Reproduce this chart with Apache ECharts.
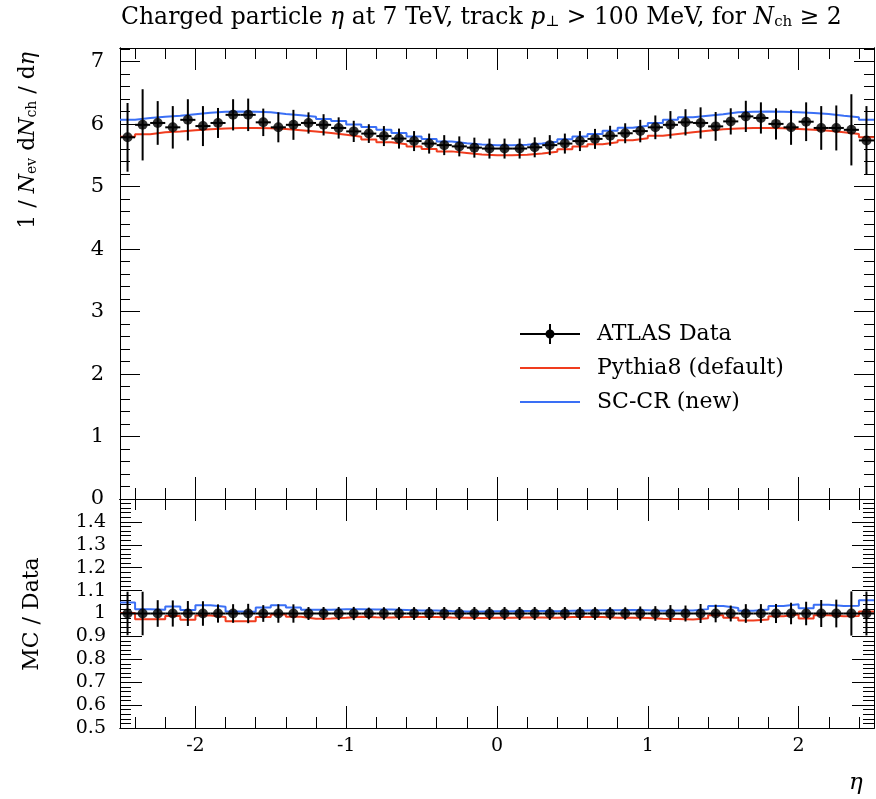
<!DOCTYPE html>
<html>
<head>
<meta charset="utf-8">
<script src="https://cdn.jsdelivr.net/npm/echarts@6/dist/echarts.min.js"></script>
<style>
  html, body { margin: 0; padding: 0; background: #fff; }
  #chart { width: 876px; height: 799px; }
</style>
</head>
<body>
<div id="chart"></div>
<script>
// Binning in pseudorapidity: 50 bins of width 0.1 from -2.5 to 2.5
const etaLow = -2.5;
const binWidth = 0.1;

// ATLAS measurement, 1/Nev dNch/deta per bin
const atlasData = [
  5.79, 5.99, 6.02, 5.95, 6.07, 5.97, 6.02, 6.15, 6.15, 6.03,
  5.95, 5.99, 6.02, 5.99, 5.94, 5.885, 5.85, 5.81, 5.77, 5.73,
  5.69, 5.665, 5.645, 5.625, 5.61, 5.61, 5.61, 5.63, 5.665, 5.69,
  5.73, 5.765, 5.815, 5.855, 5.89, 5.95, 5.99, 6.03, 6.02, 5.965,
  6.045, 6.125, 6.10, 6.005, 5.95, 6.04, 5.94, 5.94, 5.91, 5.74
];
// total uncertainty per bin
const atlasErr = [
  0.55, 0.57, 0.35, 0.34, 0.33, 0.32, 0.24, 0.25, 0.26, 0.22,
  0.24, 0.24, 0.17, 0.17, 0.17, 0.17, 0.15, 0.16, 0.16, 0.16,
  0.16, 0.16, 0.16, 0.16, 0.16, 0.16, 0.16, 0.16, 0.16, 0.16,
  0.16, 0.16, 0.16, 0.16, 0.18, 0.19, 0.22, 0.21, 0.25, 0.23,
  0.21, 0.25, 0.25, 0.25, 0.28, 0.31, 0.35, 0.36, 0.57, 0.55
];
// Pythia8 default tune
const pythia8 = [
  5.80, 5.84, 5.87, 5.885, 5.905, 5.92, 5.93, 5.94, 5.94, 5.935,
  5.925, 5.905, 5.885, 5.86, 5.83, 5.80, 5.755, 5.71, 5.68, 5.645,
  5.605, 5.565, 5.54, 5.515, 5.505, 5.505, 5.51, 5.53, 5.56, 5.60,
  5.645, 5.68, 5.71, 5.745, 5.775, 5.815, 5.845, 5.87, 5.895, 5.92,
  5.93, 5.94, 5.94, 5.935, 5.925, 5.91, 5.895, 5.87, 5.845, 5.79
];
// SC-CR colour reconnection model
const scCr = [
  6.07, 6.10, 6.12, 6.135, 6.16, 6.185, 6.20, 6.205, 6.20, 6.19,
  6.165, 6.145, 6.12, 6.085, 6.05, 5.995, 5.955, 5.91, 5.86, 5.805,
  5.765, 5.725, 5.695, 5.675, 5.665, 5.665, 5.67, 5.69, 5.72, 5.76,
  5.805, 5.845, 5.895, 5.945, 5.975, 6.02, 6.07, 6.11, 6.135, 6.16,
  6.19, 6.20, 6.205, 6.20, 6.19, 6.18, 6.165, 6.135, 6.11, 6.07
];

// Tick positions
const xMajorTicks = [-2, -1, 0, 1, 2];
const xMinorTicks = [-2.4, -2.2, -1.8, -1.6, -1.4, -1.2, -0.8, -0.6, -0.4, -0.2,
                     0.2, 0.4, 0.6, 0.8, 1.2, 1.4, 1.6, 1.8, 2.2, 2.4];
const yMainMajor = [0, 1, 2, 3, 4, 5, 6, 7];
const yMainMinor = [0.2, 0.4, 0.6, 0.8, 1.2, 1.4, 1.6, 1.8, 2.2, 2.4, 2.6, 2.8,
                    3.2, 3.4, 3.6, 3.8, 4.2, 4.4, 4.6, 4.8, 5.2, 5.4, 5.6, 5.8,
                    6.2, 6.4, 6.6, 6.8, 7.2];
const yRatioMajor = [0.5, 0.6, 0.7, 0.8, 0.9, 1.0, 1.1, 1.2, 1.3, 1.4];
const yRatioLabels = ['0.5', '0.6', '0.7', '0.8', '0.9', '1', '1.1', '1.2', '1.3', '1.4'];

const SERIF = '"DejaVu Serif", "Liberation Serif", serif';
const RED = '#f03c1e';
const BLUE = '#3a6ff5';

const nBins = atlasData.length;
const edges = [];
for (let i = 0; i <= nBins; i++) edges.push(+(etaLow + i * binWidth).toFixed(3));
const centers = atlasData.map((_, i) => +(etaLow + (i + 0.5) * binWidth).toFixed(3));

// minor ticks every 0.02 on the ratio axis
const yRatioMinor = [];
for (let k = 25; k <= 75; k++) { if (k % 5) yRatioMinor.push(k / 50); }

// histogram outline as a step line through the bin edges
function stepData(vals) {
  return edges.map((e, i) => [e, vals[Math.min(i, vals.length - 1)]]);
}
const ratioPythia = pythia8.map((v, i) => v / atlasData[i]);
const ratioScCr = scCr.map((v, i) => v / atlasData[i]);

function axis(gridIndex, position, min, max, ticks, len, label) {
  return {
    type: 'value', gridIndex, position, min, max,
    axisLine: { show: true, onZero: false, lineStyle: { color: '#000', width: 1 } },
    axisTick: { show: true, inside: true, length: len, customValues: ticks,
                lineStyle: { color: '#000', width: 1 } },
    axisLabel: label || { show: false },
    splitLine: { show: false },
    minorTick: { show: false },
    splitArea: { show: false },
    silent: true
  };
}

const yMax = 7.22;
const xAxes = [
  axis(0, 'bottom', -2.5, 2.5, xMajorTicks, 22),
  axis(0, 'bottom', -2.5, 2.5, xMinorTicks, 11),
  axis(0, 'top', -2.5, 2.5, xMajorTicks, 22),
  axis(0, 'top', -2.5, 2.5, xMinorTicks, 11),
  axis(1, 'bottom', -2.5, 2.5, xMajorTicks, 22, {
    show: true, customValues: xMajorTicks, margin: 9,
    fontFamily: SERIF, fontSize: 19, color: '#000',
    formatter: v => String(v)
  }),
  axis(1, 'bottom', -2.5, 2.5, xMinorTicks, 11),
  axis(1, 'top', -2.5, 2.5, xMajorTicks, 22),
  axis(1, 'top', -2.5, 2.5, xMinorTicks, 11)
];
const yAxes = [
  axis(0, 'left', 0, yMax, yMainMajor, 20, {
    show: true, customValues: yMainMajor, margin: 16,
    fontFamily: SERIF, fontSize: 21, color: '#000',
    formatter: v => String(Math.round(v))
  }),
  axis(0, 'left', 0, yMax, yMainMinor, 10),
  axis(0, 'right', 0, yMax, yMainMajor, 20),
  axis(0, 'right', 0, yMax, yMainMinor, 10),
  axis(1, 'left', 0.5, 1.5, yRatioMajor, 22, {
    show: true, customValues: yRatioMajor, margin: 14,
    fontFamily: SERIF, fontSize: 19, color: '#000',
    formatter: v => yRatioLabels[Math.round(v * 10) - 5]
  }),
  axis(1, 'left', 0.5, 1.5, yRatioMinor, 11),
  axis(1, 'right', 0.5, 1.5, yRatioMajor, 22),
  axis(1, 'right', 0.5, 1.5, yRatioMinor, 11)
];

// vertical error bar plus horizontal bin-width bar
function errorBarSeries(name, xIdx, yIdx, values, errs) {
  return {
    name, type: 'custom', xAxisIndex: xIdx, yAxisIndex: yIdx, z: 4,
    itemStyle: { color: '#000' },
    data: values.map((v, i) => [centers[i], v, errs[i]]),
    renderItem: (params, api) => {
      const x = api.value(0), y = api.value(1), e = api.value(2);
      const a = api.coord([x, y - e]), b = api.coord([x, y + e]);
      const l = api.coord([x - binWidth / 2, y]), r = api.coord([x + binWidth / 2, y]);
      const st = { stroke: '#000', lineWidth: 2 };
      return { type: 'group', children: [
        { type: 'line', shape: { x1: a[0], y1: a[1], x2: b[0], y2: b[1] }, style: st },
        { type: 'line', shape: { x1: l[0], y1: l[1], x2: r[0], y2: r[1] }, style: st }
      ]};
    }
  };
}
function markerSeries(name, xIdx, yIdx, values) {
  return {
    name, type: 'scatter', xAxisIndex: xIdx, yAxisIndex: yIdx, z: 5,
    symbol: 'circle', symbolSize: 10,
    itemStyle: { color: '#000' },
    data: values.map((v, i) => [centers[i], v])
  };
}
function stepSeries(name, xIdx, yIdx, vals, color) {
  return {
    name, type: 'line', xAxisIndex: xIdx, yAxisIndex: yIdx, z: 3,
    step: 'end', symbol: 'none', showSymbol: false,
    lineStyle: { color, width: 2 }, itemStyle: { color },
    data: stepData(vals)
  };
}

const ones = atlasData.map(() => 1);
const relErr = atlasErr.map((e, i) => e / atlasData[i]);

const dataIcon = 'path://M0,9 h60 v2 h-60 Z M29,0 h2 v20 h-2 Z M25.5,10 a4.5,4.5 0 1,1 9,0 a4.5,4.5 0 1,1 -9,0 Z';
const lineIcon = 'path://M0,0 M60,20 M0,9 h60 v2 h-60 Z';

const option = {
  animation: false,
  backgroundColor: '#fff',
  textStyle: { fontFamily: SERIF },
  title: {
    left: 121, top: 6, padding: 0,
    text: 'Charged particle {i|η} at 7 TeV, track {i|p}{s|⊥} > 100 MeV, for {i|N}{s|ch} ≥ 2',
    textStyle: {
      fontFamily: SERIF, fontSize: 23.5, fontWeight: 'normal', color: '#000',
      rich: {
        i: { fontFamily: SERIF, fontSize: 23.5, fontStyle: 'italic', color: '#000' },
        s: { fontFamily: SERIF, fontSize: 15, color: '#000', verticalAlign: 'bottom', lineHeight: 10 }
      }
    }
  },
  legend: {
    orient: 'vertical', left: 520, top: 323, padding: 0,
    itemWidth: 60, itemHeight: 20, itemGap: 12,
    textStyle: { fontFamily: SERIF, fontSize: 22, color: '#000', padding: [0, 0, 0, 12] },
    data: [
      { name: 'ATLAS Data', icon: dataIcon, itemStyle: { color: '#000' } },
      { name: 'Pythia8 (default)', icon: lineIcon, itemStyle: { color: RED } },
      { name: 'SC-CR (new)', icon: lineIcon, itemStyle: { color: BLUE } }
    ],
    selectedMode: false
  },
  grid: [
    { left: 120, right: 2, top: 48, height: 451 },
    { left: 120, right: 2, top: 499, height: 229 }
  ],
  xAxis: xAxes,
  yAxis: yAxes,
  graphic: [
    {
      type: 'text', x: 28, y: 52, rotation: Math.PI / 2,
      style: {
        text: '1 / {i|N}{s|ev} d{i|N}{s|ch} / d{i|η}',
        align: 'right', verticalAlign: 'middle',
        fontFamily: SERIF, fontSize: 22, fill: '#000',
        rich: {
          i: { fontFamily: SERIF, fontSize: 22, fontStyle: 'italic', fill: '#000' },
          s: { fontFamily: SERIF, fontSize: 14, fill: '#000', verticalAlign: 'bottom', lineHeight: 10 }
        }
      }
    },
    {
      type: 'text', x: 32, y: 614, rotation: Math.PI / 2,
      style: {
        text: 'MC / Data', align: 'center', verticalAlign: 'middle',
        fontFamily: SERIF, fontSize: 22, fill: '#000'
      }
    },
    {
      type: 'text', x: 856, y: 783,
      style: {
        text: 'η', align: 'center', verticalAlign: 'middle',
        fontFamily: SERIF, fontSize: 23, fontStyle: 'italic', fill: '#000'
      }
    }
  ],
  series: [
    stepSeries('Pythia8 (default)', 0, 0, pythia8, RED),
    stepSeries('SC-CR (new)', 0, 0, scCr, BLUE),
    errorBarSeries('ATLAS Data', 0, 0, atlasData, atlasErr),
    markerSeries('ATLAS Data', 0, 0, atlasData),
    stepSeries('Pythia8 (default)', 4, 4, ratioPythia, RED),
    stepSeries('SC-CR (new)', 4, 4, ratioScCr, BLUE),
    errorBarSeries('ATLAS Data', 4, 4, ones, relErr),
    markerSeries('ATLAS Data', 4, 4, ones)
  ]
};

const chart = echarts.init(document.getElementById('chart'), null, { renderer: 'canvas' });
chart.setOption(option);
</script>
</body>
</html>
